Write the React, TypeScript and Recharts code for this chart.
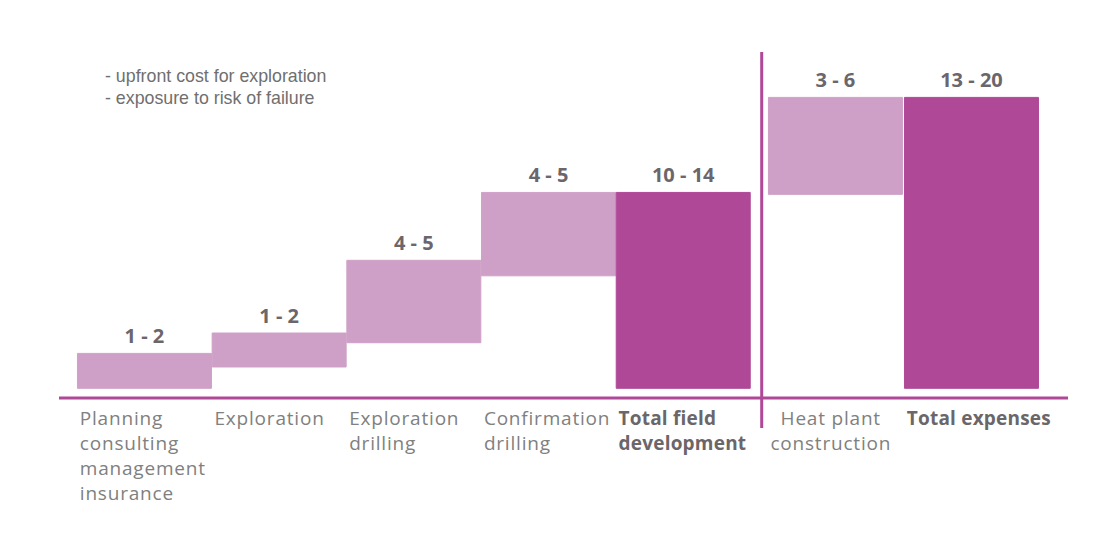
import React from 'react';
import { BarChart, Bar, XAxis, YAxis, Cell, LabelList, ReferenceLine } from 'recharts';

// cost steps, in the same unit as the range labels
const categoryLines = [
  ['Planning', 'consulting', 'management', 'insurance'],
  ['Exploration'],
  ['Exploration', 'drilling'],
  ['Confirmation', 'drilling'],
  ['Total field', 'development'],
  ['Heat plant', 'construction'],
  ['Total expenses'],
];
const positions = [0, 1, 2, 3, 4, 5.13, 6.14];
const lowValues = [0, 1.1, 2.35, 5.8, 0, 10.0, 0];
const highValues = [1.8, 2.85, 6.6, 10.1, 10.1, 15.0, 15.0];
const rangeLabels = ['1 - 2', '1 - 2', '4 - 5', '4 - 5', '10 - 14', '3 - 6', '13 - 20'];
const isTotal = [false, false, false, false, true, false, true];
const centeredTick = [false, false, false, false, false, true, false];
const notes = ['- upfront cost for exploration', '- exposure to risk of failure'];
const dividerAt = 4.58;

const LIGHT = '#cfa0c7';
const DARK = '#b04898';
const FONT = '"Open Sans", sans-serif';

const data = positions.map((pos, i) => ({
  pos,
  range: [lowValues[i], highValues[i]],
  label: rangeLabels[i],
}));

const CategoryTick = (props: any) => {
  const { x, y, index } = props;
  const lines = categoryLines[index] || [];
  const bold = isTotal[index];
  const centered = centeredTick[index];
  const tx = centered ? x - 5 : x - 65;
  return (
    <text
      x={tx}
      y={y}
      textAnchor={centered ? 'middle' : 'start'}
      fontFamily={FONT}
      fontSize={19}
      fontWeight={bold ? 700 : 400}
      letterSpacing={bold ? 0.2 : 0.8}
      fill={bold ? '#6b6669' : '#808080'}
    >
      {lines.map((line, i) => (
        <tspan key={i} x={tx} y={y + 27 + i * 25}>
          {line}
        </tspan>
      ))}
    </text>
  );
};

export default function App() {
  return (
    <div style={{ position: 'absolute', left: 0, top: 0, width: 1114, height: 559, background: '#fff' }}>
      <div
        style={{
          position: 'absolute',
          left: 105,
          top: 65,
          fontFamily: '"Liberation Sans", Arial, sans-serif',
          fontSize: 17.8,
          lineHeight: '22px',
          color: '#6f6f6f',
        }}
      >
        {notes.map((n) => (
          <div key={n}>{n}</div>
        ))}
      </div>
      <BarChart width={1114} height={559} data={data} margin={{ top: 78, right: 46, bottom: 51, left: 59 }}>
        <XAxis
          type="number"
          dataKey="pos"
          domain={[-0.637, 6.854]}
          ticks={positions}
          interval={0}
          allowDataOverflow
          height={110}
          tickLine={false}
          tickSize={0}
          tickMargin={0}
          axisLine={{ stroke: DARK, strokeWidth: 3 }}
          tick={<CategoryTick />}
        />
        <YAxis hide type="number" domain={[-0.5, 16]} allowDataOverflow />
        <ReferenceLine
          segment={[
            { x: dividerAt, y: -2.05 },
            { x: dividerAt, y: 17.34 },
          ]}
          stroke={DARK}
          strokeWidth={3}
          ifOverflow="visible"
        />
        <Bar dataKey="range" barSize={134} isAnimationActive={false}>
          {data.map((d, i) => (
            <Cell key={d.pos} fill={isTotal[i] ? DARK : LIGHT} stroke={isTotal[i] ? DARK : LIGHT} strokeWidth={1} />
          ))}
          <LabelList
            dataKey="label"
            position="top"
            offset={10}
            fill="#6b666b"
            fontFamily={FONT}
            fontSize={20}
            fontWeight={700}
          />
        </Bar>
      </BarChart>
    </div>
  );
}
